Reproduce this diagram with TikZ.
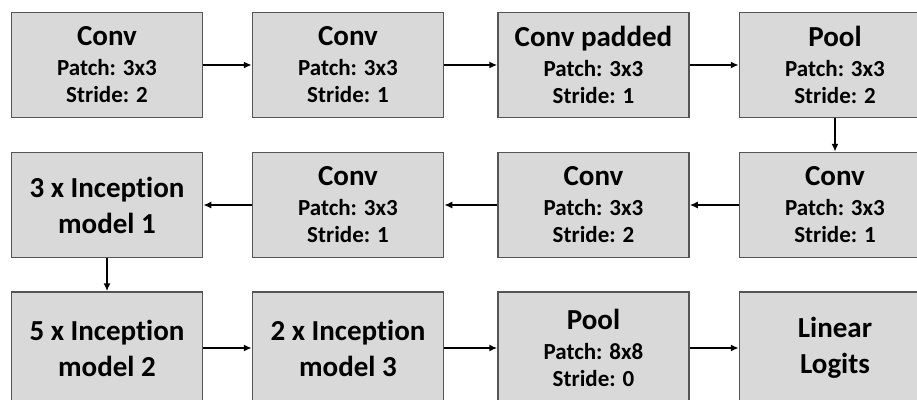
\documentclass[tikz,border=0pt]{standalone}
\usepackage{fontspec}
\setmainfont{Carlito}[Ligatures=NoCommon]
\usetikzlibrary{arrows.meta}
\definecolor{boxfill}{HTML}{D9D9D9}
\definecolor{boxline}{HTML}{555555}
\newcommand\headfont{\bfseries\fontsize{29}{36}\selectfont}
\newcommand\infofont{\bfseries\fontsize{23}{27}\selectfont}

\begin{document}
\begin{tikzpicture}[x=1pt,y=-1pt,
  layer/.style={draw=boxline,line width=1.5pt,fill=boxfill,
    minimum width=191pt,minimum height=105pt,inner sep=0pt,
    align=center,font=\infofont},
  lastrow/.style={layer,minimum height=112pt},
  flow/.style={-{Latex[length=8pt,width=7pt]},line width=1.8pt}]

% page frame, the right column and the last row run off it
\useasboundingbox (0,0) rectangle (917,399);
\fill[white] (0,0) rectangle (917,399);
\clip (0,0) rectangle (917,399);

% first row, left to right
\node[layer] (conv1) at (107,65)
  {{\headfont Conv}\\[3pt]Patch: 3x3\\Stride: 2};
\node[layer] (conv2) at (348,65)
  {{\headfont Conv}\\[3pt]Patch: 3x3\\Stride: 1};
\node[layer] (convpad) at (593.5,65)
  {{\headfont Conv padded}\\[3pt]Patch: 3x3\\Stride: 1};
\node[layer] (pool1) at (835,65)
  {{\headfont Pool}\\[3pt]Patch: 3x3\\Stride: 2};

% second row, right to left
\node[layer] (conv3) at (835,205)
  {{\headfont Conv}\\[3pt]Patch: 3x3\\Stride: 1};
\node[layer] (conv4) at (593.5,205)
  {{\headfont Conv}\\[3pt]Patch: 3x3\\Stride: 2};
\node[layer] (conv5) at (348,205)
  {{\headfont Conv}\\[3pt]Patch: 3x3\\Stride: 1};
\node[layer,font=\headfont] (incep1) at (107,205)
  {3 x Inception\\model 1};

% third row, left to right
\node[lastrow,font=\headfont] (incep2) at (107,348)
  {5 x Inception\\model 2};
\node[lastrow,font=\headfont] (incep3) at (348,348)
  {2 x Inception\\model 3};
\node[lastrow] (pool2) at (593.5,348)
  {{\headfont Pool}\\[3pt]Patch: 8x8\\Stride: 0};
\node[lastrow,font=\headfont] (logits) at (835,348)
  {Linear\\Logits};

% connections
\draw[flow] (conv1) -- (conv2);
\draw[flow] (conv2) -- (convpad);
\draw[flow] (convpad) -- (pool1);
\draw[flow] (pool1) -- (conv3);
\draw[flow] (conv3) -- (conv4);
\draw[flow] (conv4) -- (conv5);
\draw[flow] (conv5) -- (incep1);
\draw[flow] (incep1) -- (incep2);
\draw[flow] (incep2) -- (incep3);
\draw[flow] (incep3) -- (pool2);
\draw[flow] (pool2) -- (logits);

\end{tikzpicture}
\end{document}
